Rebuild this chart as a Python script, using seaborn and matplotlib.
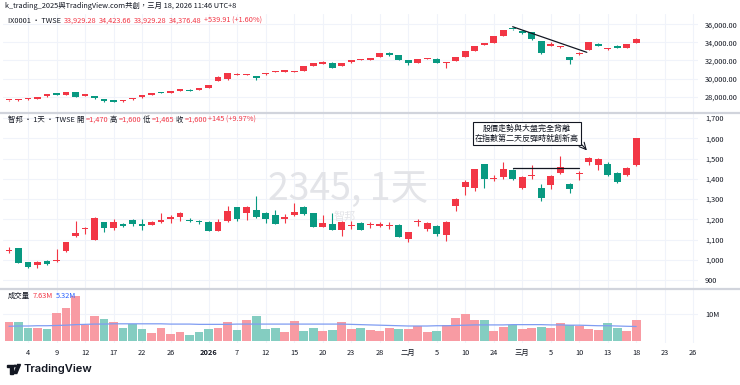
import numpy as np
import pandas as pd
import seaborn as sns
import matplotlib.pyplot as plt
from matplotlib.lines import Line2D
from matplotlib.patches import Circle, Polygon

sns.set_theme(style="white")
plt.rcParams['font.family'] = ['Noto Sans CJK TC', 'DejaVu Sans']

RED = "#F23645"
GREEN = "#089981"
TXT = "#131722"
GRID = "#F0F3FA"

# trading days (TWSE holidays removed)
holidays = ["2025-12-25", "2026-01-01", "2026-02-12", "2026-02-13", "2026-02-16",
            "2026-02-17", "2026-02-18", "2026-02-19", "2026-02-20", "2026-02-27"]
days = pd.bdate_range("2025-12-02", "2026-03-18")
days = days[~days.isin(pd.to_datetime(holidays))]
future = pd.bdate_range("2026-03-19", "2026-03-26")
all_days = days.append(future)

tick_dates = ["2025-12-04", "2025-12-09", "2025-12-12", "2025-12-17", "2025-12-22", "2025-12-26",
              "2026-01-02", "2026-01-07", "2026-01-12", "2026-01-15", "2026-01-20", "2026-01-23",
              "2026-01-28", "2026-02-02", "2026-02-05", "2026-02-10", "2026-02-24", "2026-03-02",
              "2026-03-05", "2026-03-10", "2026-03-13", "2026-03-18", "2026-03-23", "2026-03-26"]
tick_labels = ["4", "9", "12", "17", "22", "26", "2026", "7", "12", "15", "20", "23",
               "28", "二月", "5", "10", "24", "三月", "5", "10", "13", "18", "23", "26"]

# 加權指數 IX0001
ix_open = [27600, 27600, 27720, 27780, 28030, 28400, 28220, 28475, 28100, 28100,
           27735, 27625, 27500, 27720, 27920, 28210, 28440, 28430, 28620, 28770,
           28700, 28985, 29755, 29910, 30440, 30400, 30240, 30460, 30700, 30750,
           30715, 30830, 31380, 31600, 31750, 31380, 31790, 32060, 32080, 32410,
           32850, 32560, 32040, 31750, 32210, 32190, 31740, 31930, 32410, 33070,
           33670, 33960, 34700, 35460, 35290, 35110, 34180, 33590, 33440, 32340,
           32670, 33150, 33810, 33220, 33590, 33400, 33929.28]
ix_high = [27680, 27780, 27800, 28010, 28310, 28420, 28500, 28500, 28310, 28120,
           27760, 27650, 27580, 27800, 28160, 28380, 28480, 28640, 28860, 28800,
           28960, 29330, 30250, 30600, 30560, 30480, 30300, 30620, 30800, 30960,
           30850, 31400, 31700, 31900, 31800, 31760, 32050, 32130, 32320, 32800,
           32950, 32600, 32080, 32180, 32290, 32230, 31800, 32430, 33060, 33610,
           33900, 34720, 35380, 35520, 35320, 35140, 34200, 33990, 33610, 32360,
           32950, 34080, 33950, 33420, 33700, 33860, 34423.66]
ix_low = [27560, 27560, 27680, 27760, 28010, 28150, 28200, 27970, 28080, 27750,
          27420, 27400, 27440, 27680, 27900, 28190, 28380, 28410, 28600, 28600,
          28680, 28960, 29740, 29880, 30400, 30360, 29880, 30440, 30680, 30730,
          30700, 30800, 31360, 31560, 31150, 31360, 31770, 32000, 32060, 32390,
          32540, 32020, 31480, 31730, 32180, 31730, 31195, 31900, 32390, 33050,
          33650, 33940, 34680, 35360, 34900, 34310, 32760, 33570, 33420, 31560,
          32650, 33130, 33560, 33160, 33320, 33380, 33929.28]
ix_close = [27630, 27760, 27740, 27990, 28290, 28180, 28470, 27990, 28290, 27845,
            27515, 27440, 27520, 27740, 28140, 28365, 28420, 28620, 28840, 28620,
            28950, 29315, 30130, 30570, 30460, 30420, 30050, 30600, 30715, 30940,
            30830, 31380, 31680, 31790, 31195, 31750, 32000, 32080, 32300, 32780,
            32560, 32040, 31680, 32150, 32230, 31750, 31760, 32410, 33040, 33590,
            33890, 34700, 35360, 35420, 35070, 34330, 32780, 33780, 33590, 32040,
            32850, 34070, 33590, 33400, 33335, 33836.57, 34376.48]

# 智邦 2345
st_open = [1045, 1057, 987, 974, 994, 993, 1043, 1120, 1150, 1098,
           1185, 1155, 1178, 1196, 1178, 1174, 1186, 1201, 1213, 1198,
           1189, 1189, 1142, 1191, 1262, 1232, 1246, 1231, 1223, 1201,
           1223, 1262, 1230, 1163, 1175, 1147, 1165, 1184, 1170, 1168,
           1165, 1172, 1101, 1186, 1150, 1167, 1122, 1265, 1361, 1353,
           1471, 1397, 1407, 1443, 1356, 1413, 1353, 1369, 1430, 1374,
           1424, 1481, 1468, 1475, 1430, 1420, 1470]
st_high = [1065, 1060, 990, 995, 1000, 1052, 1090, 1193, 1163, 1210,
           1188, 1200, 1182, 1200, 1200, 1193, 1229, 1220, 1236, 1205,
           1195, 1192, 1200, 1265, 1262, 1265, 1316, 1238, 1245, 1225,
           1282, 1268, 1232, 1220, 1230, 1190, 1190, 1188, 1185, 1185,
           1188, 1175, 1138, 1200, 1188, 1170, 1190, 1307, 1395, 1450,
           1475, 1418, 1484, 1450, 1415, 1467, 1375, 1420, 1512, 1380,
           1440, 1510, 1502, 1485, 1432, 1460, 1600]
st_low = [1035, 983, 962, 960, 975, 990, 1040, 1113, 1126, 1096,
          1138, 1145, 1162, 1168, 1148, 1170, 1180, 1180, 1190, 1185,
          1175, 1140, 1140, 1185, 1190, 1195, 1205, 1180, 1175, 1180,
          1215, 1220, 1160, 1160, 1145, 1120, 1150, 1145, 1155, 1160,
          1150, 1112, 1090, 1165, 1140, 1120, 1094, 1242, 1318, 1340,
          1355, 1390, 1400, 1395, 1350, 1400, 1290, 1350, 1425, 1330,
          1395, 1470, 1443, 1415, 1380, 1415, 1465]
st_close = [1050, 985, 966, 991, 979, 998, 1088, 1134, 1155, 1208,
            1155, 1185, 1165, 1175, 1168, 1185, 1198, 1213, 1230, 1190,
            1186, 1142, 1185, 1239, 1201, 1262, 1211, 1201, 1178, 1213,
            1238, 1228, 1163, 1184, 1147, 1185, 1168, 1147, 1173, 1175,
            1168, 1114, 1136, 1189, 1183, 1126, 1188, 1299, 1385, 1447,
            1397, 1401, 1447, 1397, 1410, 1418, 1303, 1414, 1460, 1351,
            1430, 1501, 1500, 1420, 1385, 1455, 1600]

# 成交量 (M)
volume = [6.8, 7.1, 4.6, 4.9, 4.3, 10.4, 12.2, 16.6, 6.0, 9.3,
          8.2, 7.0, 4.6, 6.3, 4.5, 3.0, 4.9, 2.7, 3.4, 2.1,
          3.4, 4.3, 4.8, 7.1, 4.1, 7.7, 9.1, 4.3, 4.6, 3.4,
          7.4, 3.5, 4.8, 3.7, 3.9, 7.0, 4.3, 4.9, 3.9, 3.5,
          4.9, 4.3, 4.4, 5.6, 3.4, 3.7, 6.0, 8.3, 9.9, 7.7,
          7.8, 3.5, 5.0, 5.7, 4.3, 4.9, 5.2, 4.6, 6.6, 6.0,
          5.6, 4.3, 4.0, 6.7, 4.6, 3.7, 7.63]
vol_ma = [5.4, 5.5, 5.5, 5.6, 5.6, 5.7, 5.8, 6.0, 6.1, 6.2,
          6.2, 6.3, 6.3, 6.3, 6.3, 6.3, 6.3, 6.2, 6.2, 6.2,
          6.1, 6.1, 6.1, 6.1, 6.2, 6.2, 6.2, 6.2, 6.2, 6.2,
          6.2, 6.2, 6.2, 6.2, 6.2, 6.2, 6.1, 6.0, 5.9, 5.8,
          5.7, 5.6, 5.5, 5.5, 5.5, 5.6, 5.6, 5.7, 5.8, 5.9,
          5.9, 5.9, 5.9, 6.0, 6.0, 6.0, 6.0, 5.9, 5.9, 5.8,
          5.8, 5.7, 5.6, 5.6, 5.5, 5.4, 5.32]

W_PX, H_PX = 740, 385
fig = plt.figure(figsize=(W_PX / 100, H_PX / 100), dpi=100)
fig.patch.set_facecolor("white")


def px_box(x0, y0, x1, y1):
    return [x0 / W_PX, 1 - y1 / H_PX, (x1 - x0) / W_PX, (y1 - y0) / H_PX]


ax1 = fig.add_axes(px_box(3, 14, 698, 113))
ax2 = fig.add_axes(px_box(3, 113, 698, 289))
ax3 = fig.add_axes(px_box(3, 289, 698, 343))

tick_pos = all_days.get_indexer(pd.to_datetime(tick_dates))
n = len(days)
xs = np.arange(n)
up = np.asarray(st_close) >= np.asarray(st_open)


def candles(ax, o, h, l, c, min_body):
    o, h, l, c = map(np.asarray, (o, h, l, c))
    rising = c >= o
    col = np.where(rising, RED, GREEN)
    ax.vlines(xs, l, h, color=col, lw=0.8, zorder=2)
    ax.bar(xs, np.maximum(np.abs(c - o), min_body), bottom=np.minimum(o, c),
           width=0.72, color=col, lw=0, zorder=3)


candles(ax1, ix_open, ix_high, ix_low, ix_close, 110)
candles(ax2, st_open, st_high, st_low, st_close, 5)

# volume
ax3.bar(xs, volume, width=0.93, color=np.where(up, "#F89BA3", "#84CDC1"), lw=0, zorder=2)
sns.lineplot(x=xs, y=vol_ma, color="#7F9CF2", lw=0.9, ax=ax3, zorder=3)

# axes styling
for ax in (ax1, ax2, ax3):
    ax.set_xlim(-0.63, 72.5)
    ax.set_xticks(tick_pos)
    ax.grid(True, color=GRID, lw=0.8, zorder=0)
    ax.set_axisbelow(True)
    for s in ax.spines.values():
        s.set_visible(False)
    ax.yaxis.tick_right()
    ax.tick_params(axis="y", length=0, pad=5, labelsize=5.3, labelcolor=TXT)
    ax.set_xlabel("")
    ax.set_ylabel("")

ax1.set_ylim(26190, 37130)
ix_ticks = [28000, 30000, 32000, 34000, 36000]
ax1.set_yticks(ix_ticks)
ax1.set_yticklabels([f"{v:,.2f}" for v in ix_ticks])

ax2.set_ylim(856, 1725)
st_ticks = [900, 1000, 1100, 1200, 1300, 1400, 1500, 1600, 1700]
ax2.set_yticks(st_ticks)
ax2.set_yticklabels([f"{v:,}" for v in st_ticks])

ax3.set_ylim(-0.7, 19)
ax3.set_yticks([10])
ax3.set_yticklabels(["10M"])

ax1.tick_params(axis="x", length=0, labelbottom=False)
ax2.tick_params(axis="x", length=0, labelbottom=False)
ax3.tick_params(axis="x", length=0, pad=4, labelsize=5.3, labelcolor=TXT)
ax3.set_xticklabels(tick_labels)
for t in ax3.get_xticklabels():
    if t.get_text() == "2026":
        t.set_fontweight("bold")

# drawings
ix_line_x = [53, 60.8]
ix_line_y = [35724, 32895]
ax1.plot(ix_line_x, ix_line_y, color=TXT, lw=0.9, zorder=4)
st_line_x = [53, 60]
st_line_y = [1455, 1455]
ax2.plot(st_line_x, st_line_y, color=TXT, lw=0.9, zorder=4)

ax2.text(54.5, 1626, "股價走勢與大盤完全背離\n在指數第二天反彈時就創新高", ha="center", va="center",
         fontsize=5.8, color=TXT, linespacing=1.15, zorder=6,
         bbox=dict(boxstyle="square,pad=0.25", fc="white", ec=TXT, lw=0.8))
ax2.annotate("", xy=(61.0, 1530), xytext=(60.1, 1578),
             arrowprops=dict(arrowstyle="->", color=TXT, lw=0.8), zorder=6)

# watermark
ax2.text(0.497, 0.565, "2345, 1天", transform=ax2.transAxes, ha="center", va="center",
         fontsize=27, color="#E3E4E8", zorder=1)
ax2.text(0.492, 0.41, "智邦", transform=ax2.transAxes, ha="center", va="center",
         fontsize=8, color="#E3E4E8", zorder=1)

# panel separators
for yp in (113, 289):
    fig.add_artist(Line2D([0, 1], [1 - yp / H_PX] * 2, color="#D1D4DC", lw=1.6))

renderer = fig.canvas.get_renderer()


def seq_text(x, y, parts, size=5.3, gap=2.5):
    for s, col in parts:
        t = fig.text(x / W_PX, 1 - y / H_PX, s, color=col, fontsize=size, va="center")
        x += t.get_window_extent(renderer).width + gap


fig.text(5 / W_PX, 1 - 6 / H_PX, "k_trading_2025與TradingView.com共創，三月 18, 2026 11:46 UTC+8",
         fontsize=5.3, color=TXT, va="center")
seq_text(8, 21, [("IX0001 · TWSE", TXT), ("33,929.28", RED), ("34,423.66", RED),
                 ("33,929.28", RED), ("34,376.48", RED), ("+539.91 (+1.60%)", RED)])
seq_text(8, 120, [("智邦 · 1天 · TWSE", TXT), ("開", TXT), ("=1,470", RED), ("高", TXT), ("=1,600", RED),
                  ("低", TXT), ("=1,465", RED), ("收", TXT), ("=1,600", RED), ("+145 (+9.97%)", RED)],
         gap=1.5)
seq_text(8, 296, [("成交量", TXT), ("7.63M", RED), ("5.32M", "#2962FF")])


# TradingView logo
def pxy(x, y):
    return (x / W_PX, 1 - y / H_PX)


fig.add_artist(Polygon([pxy(7, 364.5), pxy(13, 364.5), pxy(13, 373.5), pxy(10.3, 373.5),
                        pxy(10.3, 367.3), pxy(7, 367.3)], closed=True, color=TXT,
                       transform=fig.transFigure))
fig.add_artist(Circle(pxy(15, 366), 1.4 / W_PX, color=TXT, transform=fig.transFigure))
fig.add_artist(Polygon([pxy(17.5, 364.5), pxy(20.5, 364.5), pxy(16.8, 373.5), pxy(13.8, 373.5)],
                       closed=True, color=TXT, transform=fig.transFigure))
fig.text(23 / W_PX, 1 - 369 / H_PX, "TradingView", fontsize=8, color=TXT, va="center",
         family="Inter", fontweight="semibold")

fig.savefig("out.png", dpi=100, facecolor="white")
